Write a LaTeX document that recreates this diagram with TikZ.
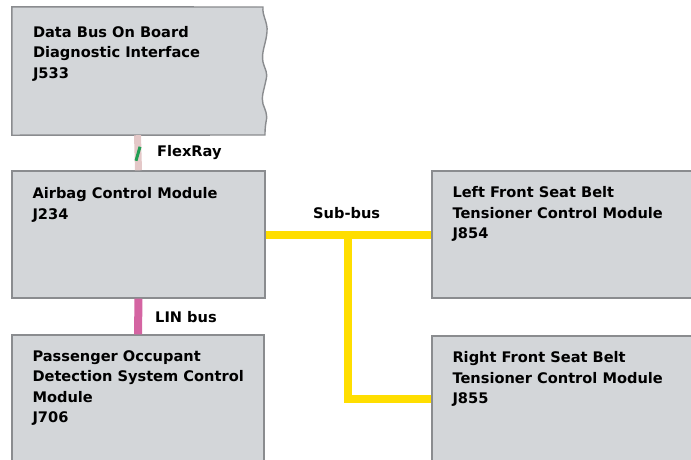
\documentclass[tikz,border=0pt]{standalone}
\usepackage{fontspec}
\setmainfont{DejaVu Sans}
\usetikzlibrary{calc}
\definecolor{boxgray}{RGB}{211,214,217}
\definecolor{edgegray}{RGB}{138,140,143}
\definecolor{subyellow}{RGB}{255,222,0}
\definecolor{linpink}{RGB}{212,100,162}
\definecolor{flexpink}{RGB}{228,200,200}
\definecolor{flexgreen}{RGB}{34,158,84}

\begin{document}
\begin{tikzpicture}[x=1pt, y=1pt,
  font=\bfseries\fontsize{14.6}{20.5}\selectfont,
  module/.style={fill=boxgray, draw=edgegray, line width=1.4pt, inner sep=0pt},
  modtext/.style={anchor=north west, align=left, inner sep=0pt},
  bus/.style={line width=8pt},
  buslabel/.style={anchor=west, inner sep=0pt}
]
\clip (0,0) rectangle (691,-459);

% Gateway, with torn right edge
\node[inner sep=0pt, minimum width=251, minimum height=128] (j533) at (137.5,-71) {};
\draw[module] (j533.south west) -- (j533.north west) -- (263,-7)
  .. controls (262,-16) and (268,-22) .. (267,-32)
  .. controls (266,-44) and (261,-52) .. (263,-62)
  .. controls (265,-70) and (268,-72) .. (266,-80)
  .. controls (264,-90) and (261,-97) .. (263,-104)
  .. controls (265,-110) and (268,-114) .. (266,-122)
  .. controls (265,-128) and (265,-132) .. (265,-135) -- cycle;

% Control modules
\node[module, minimum width=253, minimum height=127] (j234) at (138.5,-234.5) {};
\node[module, minimum width=252, minimum height=126] (j706) at (138,-398) {};
\node[module, minimum width=268, minimum height=127] (j854) at (566,-234.5) {};
\node[module, minimum width=268, minimum height=126] (j855) at (566,-399) {};

% Module texts
\node[modtext] (t533) at ($(j533.north west)+(21,-19)$) {Data Bus On Board\\Diagnostic Interface\\J533};
\node[modtext] (t234) at ($(j234.north west)+(21,-17)$) {Airbag Control Module\\J234};
\node[modtext] (t706) at ($(j706.north west)+(21,-16)$) {Passenger Occupant\\Detection System Control\\Module\\J706};
\node[modtext] (t854) at ($(j854.north west)+(21,-16)$) {Left Front Seat Belt\\Tensioner Control Module\\J854};
\node[modtext] (t855) at ($(j855.north west)+(21,-16)$) {Right Front Seat Belt\\Tensioner Control Module\\J855};

% FlexRay
\draw[bus, line width=7pt, flexpink] (j533.south) -- (j234.north);
\coordinate (fr) at ($(j533.south)!0.5!(j234.north)$);
\draw[flexgreen, line width=3pt] ($(fr)+(-2,-8)$) -- ($(fr)+(2,6)$);
\node[buslabel] (lfr) at (157,-153) {FlexRay};

% LIN bus
\draw[bus, linpink] (j234.south) -- (j706.north);
\node[buslabel] (llin) at (155,-317) {LIN bus};

% Sub-bus
\draw[bus, subyellow] (j234.east) -- (j854.west);
\coordinate (tee) at (348,-234.5);
\draw[bus, subyellow] (tee) |- (j855.west);
\node[buslabel] (lsub) at (313,-213) {Sub-bus};

\end{tikzpicture}
\end{document}
